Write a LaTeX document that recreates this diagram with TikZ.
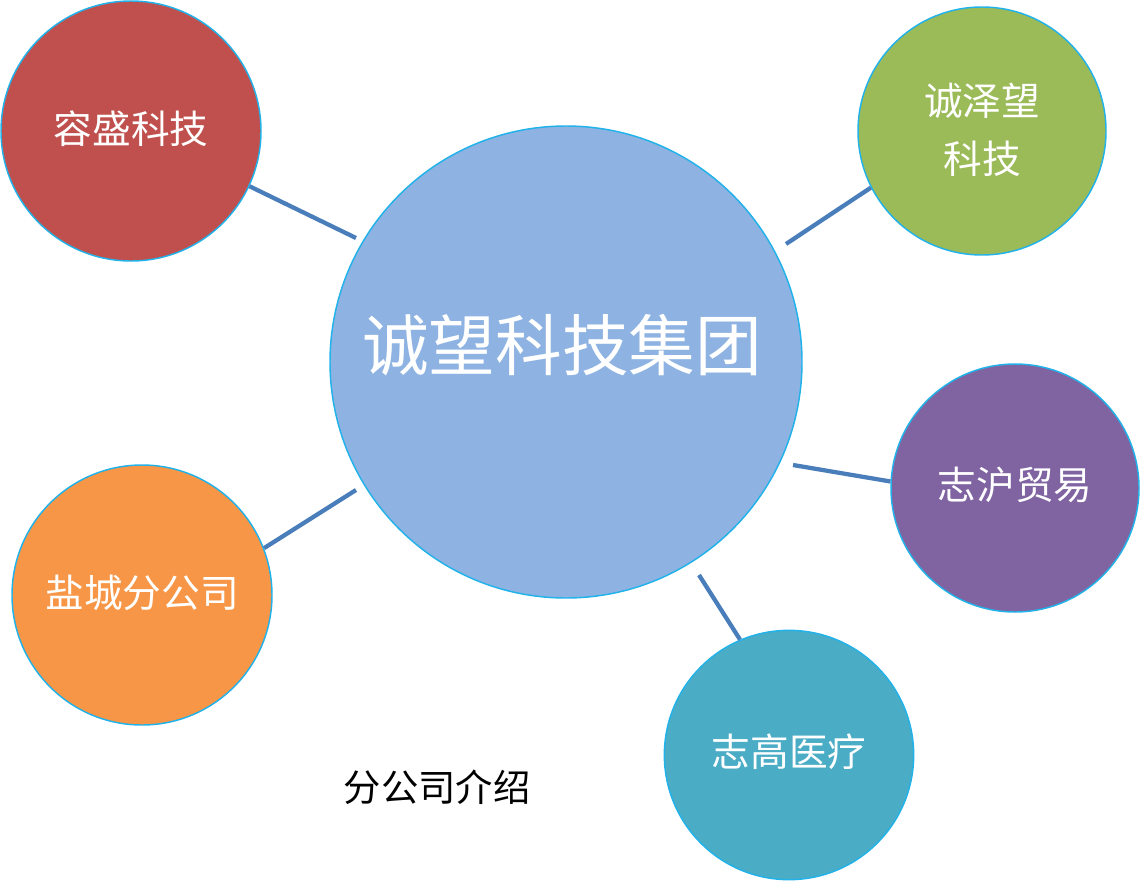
\documentclass[tikz,border=0pt]{standalone}
\usepackage{fontspec}
\setmainfont{Noto Sans CJK SC}
\newfontfamily\cjk{Noto Sans CJK SC}
\begin{document}
\begin{tikzpicture}[x=0.75pt,y=-0.75pt,
  bubble/.style={circle,draw=ringblue,line width=1.1pt,inner sep=0pt},
  wtext/.style={text=white,font=\cjk\fontsize{29pt}{36pt}\selectfont,align=center},
  link/.style={draw=linkblue,line width=3.2pt}]
\definecolor{ringblue}{HTML}{22B2EA}
\definecolor{linkblue}{HTML}{4A7EBB}
\definecolor{cred}{HTML}{C0504D}
\definecolor{cgreen}{HTML}{9BBB59}
\definecolor{cpurple}{HTML}{8064A2}
\definecolor{cteal}{HTML}{4BACC6}
\definecolor{corange}{HTML}{F79646}
\definecolor{cblue}{HTML}{8EB3E2}
\useasboundingbox (0,0) rectangle (1141,881);
% circles
\node[bubble,fill=cblue,minimum size=354pt] (c) at (566,362) {};
\node[bubble,fill=cred,minimum size=195pt] (r) at (131,131) {};
\node[bubble,fill=cgreen,minimum size=186pt] (g) at (982,131) {};
\node[bubble,fill=cpurple,minimum size=186pt] (p) at (1015,488) {};
\node[bubble,fill=cteal,minimum size=187pt] (t) at (789,755) {};
\node[bubble,fill=corange,minimum size=195pt] (o) at (142,595) {};
% texts
\node[text=white,font=\cjk\fontsize{50pt}{60pt}\selectfont] (ct) at (562,345) {诚望科技集团};
\node[wtext] (rt) at (131,129) {容盛科技};
\node[wtext] (gt) at (982,130) {诚泽望\\[7pt]科技};
\node[wtext] (pt) at (1015,485) {志沪贸易};
\node[wtext] (tt) at (789,752) {志高医疗};
\node[wtext] (ot) at (142,593) {盐城分公司};
\node[text=black,font=\cjk\fontsize{28pt}{34pt}\selectfont] (cap) at (437,787) {分公司介绍};
% connector ends at the hub
\coordinate (e1) at (356,238);
\coordinate (e2) at (786,244);
\coordinate (e3) at (793,465);
\coordinate (e4) at (699,575);
\coordinate (e5) at (356,490);
\draw[link] (r.-25) -- (e1);
\draw[link] (g.-153) -- (e2);
\draw[link] (p.177) -- (e3);
\draw[link] (t.113) -- (e4);
\draw[link] (o.21) -- (e5);
\end{tikzpicture}
\end{document}
